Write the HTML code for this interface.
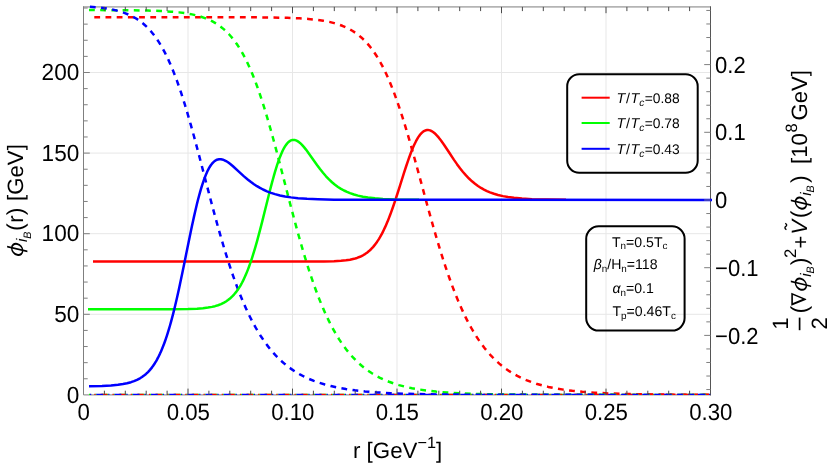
<!DOCTYPE html><html><head><meta charset="utf-8"><style>html,body{margin:0;padding:0;background:#fff}body{width:836px;height:465px;overflow:hidden;position:relative;font-family:"Liberation Sans",sans-serif}</style></head><body><svg width="836" height="465" viewBox="0 0 836 465" style="position:absolute;left:0;top:0;will-change:transform;text-rendering:geometricPrecision;font-family:'Liberation Sans',sans-serif">
<rect width="836" height="465" fill="#fff"/>
<path d="M188.00,6.90 V394.90 M292.50,6.90 V394.90 M397.00,6.90 V394.90 M501.50,6.90 V394.90 M606.00,6.90 V394.90 M83.50,314.30 H710.50 M83.50,233.70 H710.50 M83.50,153.10 H710.50 M83.50,72.50 H710.50" stroke="#e7e7e7" stroke-width="1" fill="none"/>
<path d="M83.00,6.90 H711.00" stroke="#b4b4b4" stroke-width="1.8" fill="none"/>
<path d="M83.50,6.40 V394.90 H711.00" stroke="#7f7f7f" stroke-width="1" fill="none"/>
<path d="M710.50,6.40 V395.40" stroke="#555" stroke-width="1" fill="none"/>
<clipPath id="cp"><rect x="80.50" y="0" width="633.00" height="395.00"/></clipPath><g clip-path="url(#cp)">
<path d="M89.0,394.4 H711.5" stroke="#00ff00" stroke-width="1.3" stroke-dasharray="6.7 5.15 1.2 5.15" stroke-dashoffset="5.5" fill="none"/>
<path d="M94.0,394.4 H711.5" stroke="#ff0000" stroke-width="1.3" stroke-dasharray="6.7 5.15 1.2 5.15" stroke-dashoffset="11.55" fill="none"/>
<path d="M89.5,394.4 H711.5" stroke="#0000ff" stroke-width="1.3" stroke-dasharray="6.7 5.15 1.2 5.15" stroke-dashoffset="11.3" fill="none"/>
<path d="M94.30,17.17 L239.30,17.24 L269.30,17.45 L287.30,17.83 L299.30,18.34 L308.30,18.95 L316.30,19.76 L323.30,20.75 L329.30,21.91 L334.30,23.14 L338.30,24.35 L342.30,25.80 L346.30,27.52 L349.30,29.03 L352.30,30.75 L355.30,32.70 L358.30,34.92 L361.30,37.43 L364.30,40.26 L366.30,42.34 L368.30,44.60 L370.30,47.03 L372.30,49.65 L374.30,52.47 L376.30,55.50 L378.30,58.75 L380.30,62.22 L382.30,65.93 L384.30,69.88 L386.30,74.08 L388.30,78.53 L390.30,83.23 L392.30,88.19 L394.30,93.40 L396.30,98.87 L398.30,104.57 L400.30,110.51 L402.30,116.68 L404.30,123.06 L406.30,129.63 L408.30,136.39 L411.30,146.81 L414.30,157.52 L418.30,172.11 L426.30,201.60 L430.30,216.11 L433.30,226.75 L436.30,237.12 L439.30,247.16 L441.30,253.65 L443.30,259.96 L445.30,266.09 L447.30,272.03 L449.30,277.78 L451.30,283.33 L453.30,288.67 L455.30,293.82 L457.30,298.77 L459.30,303.52 L461.30,308.07 L463.30,312.43 L465.30,316.59 L467.30,320.58 L469.30,324.38 L471.30,328.01 L473.30,331.47 L475.30,334.77 L478.30,339.41 L481.30,343.73 L484.30,347.72 L487.30,351.42 L490.30,354.84 L493.30,358.00 L496.30,360.92 L499.30,363.62 L502.30,366.10 L505.30,368.40 L509.30,371.18 L513.30,373.67 L517.30,375.90 L521.30,377.90 L526.30,380.11 L531.30,382.04 L536.30,383.71 L542.30,385.44 L548.30,386.90 L555.30,388.32 L563.30,389.64 L572.30,390.81 L582.30,391.81 L594.30,392.69 L609.30,393.45 L628.30,394.05 L654.30,394.49 L695.30,394.77 L711.30,394.82" stroke="#ff0000" stroke-width="2.5" fill="none" stroke-linejoin="round" stroke-dasharray="5.8 5.4"/>
<path d="M89.00,10.07 L128.00,10.24 L148.00,10.56 L161.00,11.02 L171.00,11.63 L179.00,12.37 L186.00,13.30 L192.00,14.39 L197.00,15.55 L201.00,16.70 L205.00,18.08 L209.00,19.74 L212.00,21.19 L215.00,22.86 L218.00,24.75 L221.00,26.92 L224.00,29.38 L227.00,32.17 L229.00,34.23 L231.00,36.46 L233.00,38.88 L235.00,41.49 L237.00,44.31 L239.00,47.35 L241.00,50.62 L243.00,54.13 L245.00,57.89 L247.00,61.90 L249.00,66.18 L251.00,70.72 L253.00,75.54 L255.00,80.64 L257.00,86.01 L259.00,91.65 L261.00,97.56 L263.00,103.73 L265.00,110.15 L267.00,116.80 L269.00,123.67 L271.00,130.74 L273.00,137.99 L276.00,149.14 L279.00,160.56 L285.00,183.82 L290.00,203.20 L293.00,214.63 L296.00,225.83 L299.00,236.72 L301.00,243.78 L303.00,250.66 L305.00,257.35 L307.00,263.85 L309.00,270.14 L311.00,276.22 L313.00,282.08 L315.00,287.72 L317.00,293.14 L319.00,298.34 L321.00,303.33 L323.00,308.09 L325.00,312.65 L327.00,317.00 L329.00,321.15 L331.00,325.11 L333.00,328.87 L335.00,332.44 L337.00,335.84 L339.00,339.07 L341.00,342.14 L344.00,346.44 L347.00,350.41 L350.00,354.07 L353.00,357.44 L356.00,360.54 L359.00,363.39 L362.00,366.02 L365.00,368.42 L368.00,370.64 L372.00,373.30 L376.00,375.68 L380.00,377.80 L384.00,379.69 L389.00,381.76 L394.00,383.55 L399.00,385.10 L405.00,386.68 L412.00,388.21 L419.00,389.45 L427.00,390.59 L436.00,391.59 L447.00,392.51 L460.00,393.27 L477.00,393.91 L499.00,394.38 L532.00,394.70 L599.00,394.87 L711.00,394.90" stroke="#00ff00" stroke-width="2.5" fill="none" stroke-linejoin="round" stroke-dasharray="5.8 5.4"/>
<path d="M89.90,6.74 L97.90,7.42 L104.90,8.28 L110.90,9.28 L115.90,10.37 L120.90,11.74 L124.90,13.10 L128.90,14.73 L131.90,16.16 L134.90,17.80 L137.90,19.68 L140.90,21.82 L143.90,24.25 L146.90,27.02 L148.90,29.07 L150.90,31.29 L152.90,33.69 L154.90,36.30 L156.90,39.11 L158.90,42.13 L160.90,45.39 L162.90,48.89 L164.90,52.64 L166.90,56.64 L168.90,60.90 L170.90,65.44 L172.90,70.25 L174.90,75.33 L176.90,80.68 L178.90,86.31 L180.90,92.19 L182.90,98.34 L184.90,104.72 L186.90,111.34 L188.90,118.17 L190.90,125.19 L193.90,136.04 L196.90,147.20 L200.90,162.41 L208.90,193.16 L211.90,204.53 L214.90,215.70 L217.90,226.59 L219.90,233.67 L221.90,240.59 L223.90,247.33 L225.90,253.88 L227.90,260.25 L229.90,266.41 L231.90,272.37 L233.90,278.12 L235.90,283.67 L237.90,289.00 L239.90,294.13 L241.90,299.04 L243.90,303.76 L245.90,308.27 L247.90,312.59 L249.90,316.72 L251.90,320.66 L253.90,324.43 L255.90,328.01 L257.90,331.43 L260.90,336.26 L263.90,340.74 L266.90,344.89 L269.90,348.74 L272.90,352.31 L275.90,355.60 L278.90,358.65 L281.90,361.47 L284.90,364.08 L287.90,366.48 L291.90,369.40 L295.90,372.03 L299.90,374.38 L303.90,376.50 L308.90,378.84 L313.90,380.89 L318.90,382.68 L324.90,384.52 L330.90,386.09 L337.90,387.63 L345.90,389.05 L354.90,390.33 L364.90,391.42 L376.90,392.40 L390.90,393.19 L407.90,393.83 L430.90,394.33 L464.90,394.67 L529.90,394.86 L710.90,394.90" stroke="#0000ff" stroke-width="2.5" fill="none" stroke-linejoin="round" stroke-dasharray="5.8 5.4"/>
<path d="M93.00,261.40 L298.00,261.46 L324.00,261.43 L334.00,261.22 L341.00,260.84 L346.00,260.34 L350.00,259.72 L354.00,258.84 L357.00,257.93 L360.00,256.77 L363.00,255.29 L365.00,254.09 L367.00,252.69 L369.00,251.07 L371.00,249.21 L373.00,247.08 L375.00,244.66 L376.00,243.33 L377.00,241.92 L378.00,240.42 L379.00,238.84 L380.00,237.17 L381.00,235.40 L382.00,233.54 L383.00,231.59 L384.00,229.54 L385.00,227.40 L386.00,225.17 L387.00,222.84 L388.00,220.41 L389.00,217.90 L390.00,215.30 L391.00,212.61 L393.00,207.00 L395.00,201.12 L397.00,195.01 L400.00,185.58 L404.00,172.91 L406.00,166.75 L408.00,160.81 L409.00,157.97 L410.00,155.21 L411.00,152.56 L412.00,150.02 L413.00,147.61 L414.00,145.33 L415.00,143.19 L416.00,141.19 L417.00,139.36 L418.00,137.68 L419.00,136.16 L420.00,134.81 L421.00,133.63 L422.00,132.61 L423.00,131.77 L424.00,131.09 L425.00,130.58 L426.00,130.23 L427.00,130.04 L428.00,130.01 L429.00,130.12 L430.00,130.38 L431.00,130.77 L432.00,131.29 L433.00,131.93 L434.00,132.69 L435.00,133.56 L436.00,134.52 L437.00,135.57 L439.00,137.91 L441.00,140.50 L444.00,144.75 L449.00,152.30 L454.00,159.85 L457.00,164.15 L460.00,168.21 L463.00,171.97 L466.00,175.41 L469.00,178.52 L472.00,181.32 L475.00,183.80 L478.00,186.00 L481.00,187.93 L484.00,189.62 L487.00,191.08 L490.00,192.36 L494.00,193.79 L498.00,194.96 L503.00,196.12 L508.00,197.02 L514.00,197.82 L522.00,198.56 L532.00,199.13 L546.00,199.55 L566.00,199.78" stroke="#ff0000" stroke-width="2.5" fill="none" stroke-linejoin="round"/>
<path d="M88.00,309.30 L172.00,309.23 L188.00,309.01 L197.00,308.66 L203.00,308.20 L208.00,307.59 L212.00,306.88 L215.00,306.17 L218.00,305.26 L221.00,304.10 L224.00,302.64 L226.00,301.46 L228.00,300.08 L230.00,298.49 L232.00,296.66 L234.00,294.56 L236.00,292.16 L237.00,290.83 L238.00,289.42 L239.00,287.92 L240.00,286.33 L241.00,284.60 L242.00,282.76 L243.00,280.81 L244.00,278.75 L245.00,276.58 L246.00,274.29 L247.00,271.88 L248.00,269.36 L249.00,266.71 L250.00,263.94 L251.00,261.05 L252.00,258.04 L253.00,254.92 L254.00,251.68 L255.00,248.33 L256.00,244.87 L257.00,241.32 L258.00,237.67 L260.00,230.13 L262.00,222.32 L265.00,210.29 L268.00,198.20 L270.00,190.30 L271.00,186.43 L272.00,182.65 L273.00,178.97 L274.00,175.39 L275.00,171.93 L276.00,168.61 L277.00,165.44 L278.00,162.43 L279.00,159.58 L280.00,156.91 L281.00,154.42 L282.00,152.13 L283.00,150.03 L284.00,148.12 L285.00,146.42 L286.00,144.93 L287.00,143.63 L288.00,142.53 L289.00,141.63 L290.00,140.92 L291.00,140.41 L292.00,140.07 L293.00,139.90 L294.00,139.91 L295.00,140.07 L296.00,140.38 L297.00,140.84 L298.00,141.42 L299.00,142.13 L300.00,142.94 L301.00,143.86 L302.00,144.87 L304.00,147.12 L306.00,149.61 L309.00,153.68 L317.00,165.00 L320.00,169.03 L323.00,172.80 L326.00,176.27 L329.00,179.42 L332.00,182.24 L335.00,184.74 L338.00,186.93 L341.00,188.85 L344.00,190.50 L347.00,191.93 L350.00,193.16 L354.00,194.52 L358.00,195.62 L363.00,196.69 L368.00,197.50 L375.00,198.30 L383.00,198.90 L394.00,199.38 L410.00,199.70 L419.00,199.78" stroke="#00ff00" stroke-width="2.5" fill="none" stroke-linejoin="round"/>
<path d="M89.00,386.34 L102.00,385.96 L111.00,385.45 L118.00,384.77 L123.00,384.04 L127.00,383.24 L131.00,382.18 L134.00,381.15 L137.00,379.88 L140.00,378.30 L142.00,377.05 L144.00,375.60 L146.00,373.94 L148.00,372.03 L150.00,369.85 L151.00,368.65 L152.00,367.36 L153.00,365.99 L154.00,364.53 L155.00,362.97 L156.00,361.31 L157.00,359.55 L158.00,357.69 L159.00,355.70 L160.00,353.61 L161.00,351.39 L162.00,349.05 L163.00,346.58 L164.00,343.97 L165.00,341.24 L166.00,338.36 L167.00,335.35 L168.00,332.20 L169.00,328.91 L170.00,325.48 L171.00,321.91 L172.00,318.20 L173.00,314.35 L174.00,310.37 L175.00,306.27 L176.00,302.04 L177.00,297.70 L178.00,293.25 L179.00,288.70 L180.00,284.06 L182.00,274.55 L185.00,259.88 L189.00,240.18 L191.00,230.53 L192.00,225.81 L193.00,221.17 L194.00,216.64 L195.00,212.23 L196.00,207.95 L197.00,203.81 L198.00,199.82 L199.00,196.00 L200.00,192.35 L201.00,188.88 L202.00,185.60 L203.00,182.51 L204.00,179.62 L205.00,176.93 L206.00,174.44 L207.00,172.15 L208.00,170.07 L209.00,168.18 L210.00,166.49 L211.00,164.99 L212.00,163.68 L213.00,162.56 L214.00,161.61 L215.00,160.82 L216.00,160.20 L217.00,159.74 L218.00,159.42 L219.00,159.23 L220.00,159.17 L221.00,159.24 L222.00,159.41 L223.00,159.69 L224.00,160.06 L226.00,161.04 L228.00,162.30 L230.00,163.78 L233.00,166.28 L238.00,170.84 L244.00,176.33 L248.00,179.73 L251.00,182.08 L254.00,184.23 L257.00,186.19 L260.00,187.94 L263.00,189.51 L267.00,191.32 L271.00,192.85 L275.00,194.13 L280.00,195.42 L285.00,196.44 L291.00,197.37 L298.00,198.15 L307.00,198.82 L318.00,199.30 L334.00,199.65 L364.00,199.85 L712.00,199.90" stroke="#0000ff" stroke-width="2.5" fill="none" stroke-linejoin="round"/>
</g>
<path d="M83.50,378.78 h4.20 M83.50,362.66 h4.20 M83.50,346.54 h4.20 M83.50,330.42 h4.20 M83.50,314.30 h6.30 M83.50,298.18 h4.20 M83.50,282.06 h4.20 M83.50,265.94 h4.20 M83.50,249.82 h4.20 M83.50,233.70 h6.30 M83.50,217.58 h4.20 M83.50,201.46 h4.20 M83.50,185.34 h4.20 M83.50,169.22 h4.20 M83.50,153.10 h6.30 M83.50,136.98 h4.20 M83.50,120.86 h4.20 M83.50,104.74 h4.20 M83.50,88.62 h4.20 M83.50,72.50 h6.30 M83.50,56.38 h4.20 M83.50,40.26 h4.20 M83.50,24.14 h4.20 M83.50,8.02 h4.20 M710.50,389.56 h-4.20 M710.50,376.02 h-4.20 M710.50,362.48 h-4.20 M710.50,348.94 h-4.20 M710.50,335.40 h-6.30 M710.50,321.86 h-4.20 M710.50,308.32 h-4.20 M710.50,294.78 h-4.20 M710.50,281.24 h-4.20 M710.50,267.70 h-6.30 M710.50,254.16 h-4.20 M710.50,240.62 h-4.20 M710.50,227.08 h-4.20 M710.50,213.54 h-4.20 M710.50,200.00 h-6.30 M710.50,186.46 h-4.20 M710.50,172.92 h-4.20 M710.50,159.38 h-4.20 M710.50,145.84 h-4.20 M710.50,132.30 h-6.30 M710.50,118.76 h-4.20 M710.50,105.22 h-4.20 M710.50,91.68 h-4.20 M710.50,78.14 h-4.20 M710.50,64.60 h-6.30 M710.50,51.06 h-4.20 M710.50,37.52 h-4.20 M710.50,23.98 h-4.20 M710.50,10.44 h-4.20" stroke="#7f7f7f" stroke-width="1" fill="none"/>
<path d="M104.40,394.90 v-4.20 M104.40,6.90 v4.20 M125.30,394.90 v-4.20 M125.30,6.90 v4.20 M146.20,394.90 v-4.20 M146.20,6.90 v4.20 M167.10,394.90 v-4.20 M167.10,6.90 v4.20 M188.00,394.90 v-6.30 M188.00,6.90 v6.30 M208.90,394.90 v-4.20 M208.90,6.90 v4.20 M229.80,394.90 v-4.20 M229.80,6.90 v4.20 M250.70,394.90 v-4.20 M250.70,6.90 v4.20 M271.60,394.90 v-4.20 M271.60,6.90 v4.20 M292.50,394.90 v-6.30 M292.50,6.90 v6.30 M313.40,394.90 v-4.20 M313.40,6.90 v4.20 M334.30,394.90 v-4.20 M334.30,6.90 v4.20 M355.20,394.90 v-4.20 M355.20,6.90 v4.20 M376.10,394.90 v-4.20 M376.10,6.90 v4.20 M397.00,394.90 v-6.30 M397.00,6.90 v6.30 M417.90,394.90 v-4.20 M417.90,6.90 v4.20 M438.80,394.90 v-4.20 M438.80,6.90 v4.20 M459.70,394.90 v-4.20 M459.70,6.90 v4.20 M480.60,394.90 v-4.20 M480.60,6.90 v4.20 M501.50,394.90 v-6.30 M501.50,6.90 v6.30 M522.40,394.90 v-4.20 M522.40,6.90 v4.20 M543.30,394.90 v-4.20 M543.30,6.90 v4.20 M564.20,394.90 v-4.20 M564.20,6.90 v4.20 M585.10,394.90 v-4.20 M585.10,6.90 v4.20 M606.00,394.90 v-6.30 M606.00,6.90 v6.30 M626.90,394.90 v-4.20 M626.90,6.90 v4.20 M647.80,394.90 v-4.20 M647.80,6.90 v4.20 M668.70,394.90 v-4.20 M668.70,6.90 v4.20 M689.60,394.90 v-4.20 M689.60,6.90 v4.20" stroke="#4a4a4a" stroke-width="1" fill="none"/>
<text transform="translate(83.8,420.0) scale(1,1.055)" font-size="22.25" text-anchor="middle">0</text>
<text transform="translate(188.3,420.0) scale(1,1.055)" font-size="22.25" text-anchor="middle">0.05</text>
<text transform="translate(292.8,420.0) scale(1,1.055)" font-size="22.25" text-anchor="middle">0.10</text>
<text transform="translate(397.3,420.0) scale(1,1.055)" font-size="22.25" text-anchor="middle">0.15</text>
<text transform="translate(501.8,420.0) scale(1,1.055)" font-size="22.25" text-anchor="middle">0.20</text>
<text transform="translate(606.3,420.0) scale(1,1.055)" font-size="22.25" text-anchor="middle">0.25</text>
<text transform="translate(710.8,420.0) scale(1,1.055)" font-size="22.25" text-anchor="middle">0.30</text>
<text transform="translate(79.3,402.5) scale(1,1.035)" font-size="22.6" text-anchor="end">0</text>
<text transform="translate(79.3,321.9) scale(1,1.035)" font-size="22.6" text-anchor="end">50</text>
<text transform="translate(79.3,241.3) scale(1,1.035)" font-size="22.6" text-anchor="end">100</text>
<text transform="translate(79.3,160.7) scale(1,1.035)" font-size="22.6" text-anchor="end">150</text>
<text transform="translate(79.3,80.1) scale(1,1.035)" font-size="22.6" text-anchor="end">200</text>
<text transform="translate(715.1,72.7) scale(1,1.055)" font-size="22.0" text-anchor="start">0.2</text>
<text transform="translate(715.1,140.4) scale(1,1.055)" font-size="22.0" text-anchor="start">0.1</text>
<text transform="translate(715.1,208.1) scale(1,1.055)" font-size="22.0" text-anchor="start">0</text>
<text transform="translate(715.1,275.8) scale(1,1.055)" font-size="22.0" text-anchor="start">−0.1</text>
<text transform="translate(715.1,343.5) scale(1,1.055)" font-size="22.0" text-anchor="start">−0.2</text>
<text x="353" y="457.8" font-size="22.3">r [GeV<tspan font-size="16.3" dy="-10">−1</tspan><tspan dy="10" font-size="22.3">]</tspan></text>
<g transform="translate(23.0,259.7) rotate(-90)"><g transform="translate(3.70,0) skewX(-13.3)"><path fill-rule="evenodd" d="M-1.22,-5.80 a6.45,6.20 0 1,0 12.90,0 a6.45,6.20 0 1,0 -12.90,0 Z M0.78,-5.80 a4.45,4.80 0 1,0 8.90,0 a4.45,4.80 0 1,0 -8.90,0 Z" fill="#000"/><path d="M5.6,-15.9 V4.4" stroke="#000" stroke-width="1.7" fill="none"/></g><text x="17.70" y="3.90" font-size="15.3" font-style="italic" text-anchor="start">i</text><text x="20.90" y="7.70" font-size="10.8" font-style="italic" text-anchor="start">B</text><text x="28.80" y="0.20" font-size="23.0" text-anchor="start">(</text><text x="37.00" y="0.00" font-size="22.2" text-anchor="start">r</text><text x="44.50" y="0.20" font-size="23.0" text-anchor="start">)</text><text x="58.80" y="0.00" font-size="22.2" text-anchor="start">[GeV]</text></g>
<g transform="translate(806.7,329.1) rotate(-90)"><text x="5.45" y="-18.60" font-size="22.2" text-anchor="middle">1</text><path d="M-1.1,-7.1 H11.5" stroke="#000" stroke-width="1.7"/><text x="5.70" y="20.30" font-size="22.2" text-anchor="middle">2</text><text x="15.60" y="0.20" font-size="23.0" text-anchor="start">(</text><path fill-rule="evenodd" d="M23.3,-15.4 L36.4,-15.4 L30.2,-0.5 L29.3,-0.5 Z M26.2,-13.8 L30.0,-4.2 L34.0,-13.8 Z" fill="#000"/><g transform="translate(38.30,0) skewX(-13.3)"><path fill-rule="evenodd" d="M-1.22,-5.80 a6.45,6.20 0 1,0 12.90,0 a6.45,6.20 0 1,0 -12.90,0 Z M0.78,-5.80 a4.45,4.80 0 1,0 8.90,0 a4.45,4.80 0 1,0 -8.90,0 Z" fill="#000"/><path d="M5.6,-15.9 V4.4" stroke="#000" stroke-width="1.7" fill="none"/></g><text x="52.30" y="3.90" font-size="15.3" font-style="italic" text-anchor="start">i</text><text x="55.50" y="7.70" font-size="10.8" font-style="italic" text-anchor="start">B</text><text x="63.90" y="0.20" font-size="23.0" text-anchor="start">)</text><text x="71.00" y="-10.40" font-size="16.8" text-anchor="start">2</text><text x="80.70" y="1.20" font-size="22.2" text-anchor="start">+</text><text x="94.40" y="0.00" font-size="22.2" font-style="italic" text-anchor="start">V</text><path d="M99.4,-20.3 c1.2,-1.9 2.4,-1.9 3.3,-0.6 c0.9,1.3 2.1,1.3 3.1,-0.6" stroke="#000" stroke-width="1.3" fill="none"/><text x="110.90" y="0.20" font-size="23.0" text-anchor="start">(</text><g transform="translate(119.40,0) skewX(-13.3)"><path fill-rule="evenodd" d="M-1.22,-5.80 a6.45,6.20 0 1,0 12.90,0 a6.45,6.20 0 1,0 -12.90,0 Z M0.78,-5.80 a4.45,4.80 0 1,0 8.90,0 a4.45,4.80 0 1,0 -8.90,0 Z" fill="#000"/><path d="M5.6,-15.9 V4.4" stroke="#000" stroke-width="1.7" fill="none"/></g><text x="133.40" y="3.90" font-size="15.3" font-style="italic" text-anchor="start">i</text><text x="136.60" y="7.70" font-size="10.8" font-style="italic" text-anchor="start">B</text><text x="146.00" y="0.20" font-size="23.0" text-anchor="start">)</text><text x="165.20" y="0.00" font-size="22.2" text-anchor="start">[10</text><text x="196.70" y="-10.00" font-size="16.4" text-anchor="start">8</text><text x="208.50" y="0.00" font-size="22.2" text-anchor="start">GeV]</text></g>
<rect x="567.2" y="74.3" width="130.5" height="98.5" rx="12" ry="12" fill="none" stroke="#000" stroke-width="2"/>
<path d="M581.6,97.7 H609.7" stroke="#ff0000" stroke-width="2"/>
<text x="616.6" y="102.7" font-size="14.3"><tspan font-style="italic">T</tspan><tspan dx="0.6">/</tspan><tspan font-style="italic" dx="0.7">T</tspan><tspan font-size="10.2" dy="3.0" font-style="italic">c</tspan><tspan dy="-3.0" dx="0.3" font-size="13.8">=0.88</tspan></text>
<path d="M581.6,123.0 H609.7" stroke="#00ff00" stroke-width="2"/>
<text x="616.6" y="128.0" font-size="14.3"><tspan font-style="italic">T</tspan><tspan dx="0.6">/</tspan><tspan font-style="italic" dx="0.7">T</tspan><tspan font-size="10.2" dy="3.0" font-style="italic">c</tspan><tspan dy="-3.0" dx="0.3" font-size="13.8">=0.78</tspan></text>
<path d="M581.6,148.8 H609.7" stroke="#0000ff" stroke-width="2"/>
<text x="616.6" y="153.8" font-size="14.3"><tspan font-style="italic">T</tspan><tspan dx="0.6">/</tspan><tspan font-style="italic" dx="0.7">T</tspan><tspan font-size="10.2" dy="3.0" font-style="italic">c</tspan><tspan dy="-3.0" dx="0.3" font-size="13.8">=0.43</tspan></text>
<rect x="586.2" y="226.3" width="98.4" height="104.3" rx="12.5" ry="12.5" fill="none" stroke="#000" stroke-width="2"/>
<text x="612.0" y="246.7" font-size="14.1">T<tspan font-size="9.9" dy="2.6">n</tspan><tspan dy="-2.6" font-size="14.1">=0.5T</tspan><tspan font-size="9.9" dy="2.6">c</tspan></text>
<text x="593.7" y="269.2" font-size="14.1"><tspan font-style="italic">β</tspan><tspan font-size="9.9" dy="2.6">n</tspan><tspan dy="-2.6" font-size="14.1">/H</tspan><tspan font-size="9.9" dy="2.6">n</tspan><tspan dy="-2.6" font-size="14.1">=118</tspan></text>
<text x="612.5" y="293.2" font-size="14.1"><tspan font-style="italic">α</tspan><tspan font-size="9.9" dy="2.6">n</tspan><tspan dy="-2.6" font-size="14.1">=0.1</tspan></text>
<text x="612.5" y="316.1" font-size="14.1">T<tspan font-size="9.9" dy="2.6">p</tspan><tspan dy="-2.6" font-size="14.1">=0.46T</tspan><tspan font-size="9.9" dy="2.6">c</tspan></text>
</svg></body></html>
